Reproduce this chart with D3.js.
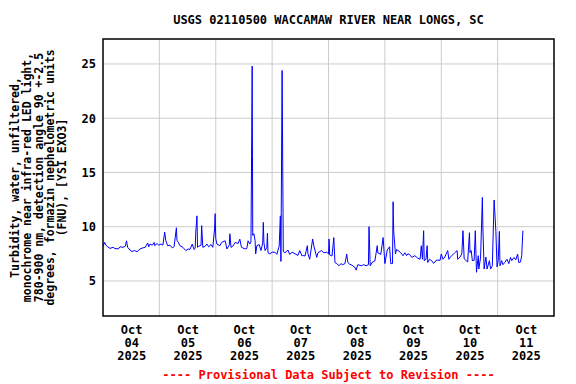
<!DOCTYPE html>
<html>
<head>
<meta charset="utf-8">
<script src="https://cdn.jsdelivr.net/npm/d3@7"></script>
<style>
  body { margin: 0; background: #fff; }
  text { font-family: "DejaVu Sans Mono", monospace; font-weight: bold; }
</style>
</head>
<body>
<svg id="chart" width="576" height="384"></svg>
<script>
// hours after 2025-10-04 00:00, turbidity (FNU)
const readings = [
  [0, 8.2], [0.75, 8.55], [1.25, 8.3], [2, 8.15], [3, 8.0], [4.25, 8.1], [5, 8.0], [6.5, 7.95],
  [7.25, 8.15], [8.5, 8.1], [9.5, 8.2], [10, 8.7], [10.5, 8.1], [11.5, 7.85], [12.25, 7.72],
  [13.5, 7.8], [14.5, 7.7], [15.75, 7.95], [17, 8.05], [18, 8.1], [19, 8.5], [19.5, 8.15],
  [20, 8.4], [21, 8.3], [21.75, 8.55], [22, 8.25], [23, 8.45], [23.75, 8.3], [24.75, 8.4],
  [25.5, 8.3], [26.25, 9.5], [26.75, 8.7], [27.5, 8.25], [28.5, 8.3], [29.5, 8.05], [30.25, 8.15],
  [31.25, 9.9], [31.5, 8.7], [32, 8.6], [32.75, 8.25], [34, 8.1], [35.25, 7.8], [36.25, 7.95],
  [37, 7.9], [38, 8.4], [38.75, 7.9], [39.25, 8.0], [39.5, 9.5], [40, 11.0], [40.25, 8.1],
  [40.75, 8.2], [41.75, 8.3], [42, 10.1], [42.5, 8.1], [43.5, 8.2], [44.25, 8.4], [45, 8.15],
  [46, 8.35], [46.75, 8.1], [47.5, 9.8], [47.75, 11.2], [48, 8.9], [48.5, 8.4], [49.75, 8.25],
  [50.5, 8.55], [52, 8.7], [52.75, 7.95], [53.75, 8.3], [54, 9.35], [54.5, 8.1], [55.25, 8.2],
  [56.25, 8.55], [57.5, 8.45], [58.25, 8.85], [58.75, 8.3], [59, 8.1], [60.5, 7.95], [61.25, 8.0],
  [61.75, 8.7], [62.5, 8.4], [63, 8.6], [63.25, 16.5], [63.5, 24.8], [63.75, 9.2], [64.25, 9.35],
  [64.75, 8.7], [65, 7.5], [65.5, 8.25], [66.5, 8.35], [67.25, 7.8], [68, 8.5], [68.25, 10.4],
  [68.5, 8.55], [69, 7.8], [69.75, 8.1], [70, 9.4], [70.25, 7.6], [71, 7.5], [72, 7.65],
  [73.25, 7.65], [74, 7.45], [75, 8.2], [75.5, 11.0], [75.75, 6.8], [76.25, 24.4], [76.5, 15.85],
  [76.75, 7.7], [77.5, 7.6], [78.75, 7.85], [79.5, 7.45], [80.5, 7.65], [81.75, 7.5], [83, 7.35],
  [83.75, 7.8], [84.75, 7.3], [85.25, 7.35], [86, 7.3], [87, 8.25], [87.25, 7.5], [88, 7.0],
  [89.25, 8.87], [89.75, 8.25], [91, 7.17], [91.5, 7.6], [93, 7.8], [94, 7.6], [95.25, 7.65],
  [96, 7.5], [96.25, 8.87], [96.5, 7.4], [97.5, 7.3], [98.25, 9.0], [98.75, 6.7], [99.5, 6.6],
  [100.5, 6.4], [101.25, 6.6], [102, 6.5], [103, 6.6], [103.75, 7.48], [104.25, 6.7], [105, 6.55],
  [106, 6.45], [107.25, 6.25], [107.75, 6.0], [108.5, 6.5], [110, 6.4], [111, 6.5], [112, 6.4],
  [113, 6.5], [113.25, 10.0], [113.75, 6.4], [114.5, 6.7], [115.75, 6.85], [116.75, 8.25],
  [117, 7.6], [118.25, 7.45], [119.25, 9.0], [120, 6.6], [121, 7.85], [122, 8.15], [122.5, 6.6],
  [123.25, 6.6], [123.5, 12.3], [123.75, 9.6], [124.5, 7.5], [125, 7.9], [126, 7.75], [126.75, 7.6],
  [127.75, 7.33], [128.5, 7.6], [129.25, 7.33], [129.75, 7.5], [130.5, 7.45], [131.5, 7.17],
  [132.75, 7.33], [134, 7.1], [135, 7.0], [135.5, 8.25], [136, 7.0], [136.5, 9.63], [136.75, 6.87],
  [137.5, 7.0], [138, 8.25], [138.25, 6.7], [139, 7.0], [140, 6.85], [140.75, 6.62], [142, 6.93],
  [143.5, 6.9], [144, 7.48], [144.75, 7.0], [145.5, 7.2], [146.75, 7.8], [147.25, 7.0], [147.75, 7.17],
  [148.5, 7.33], [149.75, 7.6], [150.75, 7.8], [151, 7.0], [152, 7.2], [152.75, 7.5], [153.25, 9.63],
  [153.75, 7.05], [154.5, 6.9], [155.25, 6.75], [156, 9.45], [156.25, 7.6], [156.75, 7.8],
  [157.25, 6.87], [158, 6.9], [158.5, 9.63], [159, 5.8], [159.75, 7.33], [160, 6.1], [160.75, 7.2],
  [161.5, 12.7], [161.75, 9.7], [162.25, 6.1], [163, 7.2], [163.5, 6.1], [164.5, 6.87], [165, 6.1],
  [165.75, 6.4], [166.5, 12.46], [167, 10.6], [167.25, 9.57], [167.75, 6.3], [168.25, 6.87],
  [168.75, 9.57], [169, 6.4], [169.75, 6.87], [170.25, 6.5], [171, 6.7], [172, 7.0], [172.75, 6.6],
  [173.5, 7.17], [174, 6.87], [175, 7.17], [175.75, 6.95], [176.5, 7.48], [177, 6.7], [177.75, 6.75],
  [178.25, 7.33], [178.75, 9.63]
];

const yTicks = [5, 10, 15, 20, 25];
const dayLabels = ["04", "05", "06", "07", "08", "09", "10", "11"];
const titleText = "USGS 02110500 WACCAMAW RIVER NEAR LONGS, SC";
const yLabelLines = [
  "Turbidity, water, unfiltered,",
  "monochrome near infra-red LED light,",
  "780-900 nm, detection angle 90 +-2.5",
  "degrees, formazin nephelometric units",
  "(FNU), [YSI EXO3]"
];
const footerText = "---- Provisional Data Subject to Revision ----";

const start = new Date(2025, 9, 4);
const end = new Date(2025, 9, 12);

const margin = {top: 39, right: 22, bottom: 68, left: 103};
const width = 576 - margin.left - margin.right;
const height = 384 - margin.top - margin.bottom;

const svg = d3.select("#chart");
const g = svg.append("g")
  .attr("transform", "translate(" + margin.left + "," + margin.top + ")");

const x = d3.scaleTime().domain([start, end]).range([0, width]);
const y = d3.scaleLinear().domain([1.77, 27.3]).range([height, 0]);

// grid
const days = d3.timeDay.range(d3.timeDay.offset(start, 1), end);
g.selectAll(".vgrid")
  .data(days)
  .enter().append("line")
  .attr("x1", d => x(d)).attr("x2", d => x(d))
  .attr("y1", 0).attr("y2", height)
  .attr("stroke", "#cccccc").attr("stroke-width", 1);
g.selectAll(".hgrid")
  .data(yTicks)
  .enter().append("line")
  .attr("x1", 0).attr("x2", width)
  .attr("y1", d => y(d)).attr("y2", d => y(d))
  .attr("stroke", "#cccccc").attr("stroke-width", 1);

// data line
const line = d3.line()
  .x(d => x(d3.timeMinute.offset(start, d[0] * 60)))
  .y(d => y(d[1]));
g.append("path")
  .datum(readings)
  .attr("fill", "none")
  .attr("stroke", "#0000ff")
  .attr("stroke-width", 1)
  .attr("d", line);

// border
g.append("rect")
  .attr("width", width).attr("height", height)
  .attr("fill", "none").attr("stroke", "#000").attr("stroke-width", 1.5);

// y axis
const yAxis = g.append("g")
  .call(d3.axisLeft(y).tickValues(yTicks).tickSize(0).tickPadding(7));
yAxis.select(".domain").remove();
yAxis.selectAll("text")
  .style("font-family", "DejaVu Sans Mono").style("font-weight", "bold")
  .style("font-size", "12px").attr("fill", "#000");

// x axis, labels at noon
const noons = dayLabels.map((d, i) => d3.timeHour.offset(start, i * 24 + 12));
const xAxis = g.append("g")
  .attr("transform", "translate(0," + height + ")")
  .call(d3.axisBottom(x).tickValues(noons).tickSize(0).tickFormat(""));
xAxis.select(".domain").remove();
xAxis.selectAll(".tick").each(function(d, i) {
  const t = d3.select(this).append("text")
    .attr("text-anchor", "middle")
    .attr("fill", "#000")
    .style("font-size", "12px");
  ["Oct", dayLabels[i], "2025"].forEach((s, k) => {
    t.append("tspan").attr("x", 0).attr("y", 18 + k * 13).text(s);
  });
});

// title
svg.append("text")
  .attr("x", margin.left + width / 2).attr("y", 24)
  .attr("text-anchor", "middle")
  .style("font-size", "12px")
  .text(titleText);

// y label
const yl = svg.append("text")
  .attr("transform", "translate(0," + (margin.top + height / 2) + ") rotate(-90)")
  .attr("text-anchor", "middle")
  .style("font-size", "11.5px");
yLabelLines.forEach((s, k) => {
  yl.append("tspan").attr("x", 0).attr("y", 19 + k * 11.8).text(s);
});

// footer
svg.append("text")
  .attr("x", margin.left + width / 2).attr("y", 379)
  .attr("text-anchor", "middle")
  .attr("fill", "#ff0000")
  .style("font-size", "12px")
  .text(footerText);
</script>
</body>
</html>
